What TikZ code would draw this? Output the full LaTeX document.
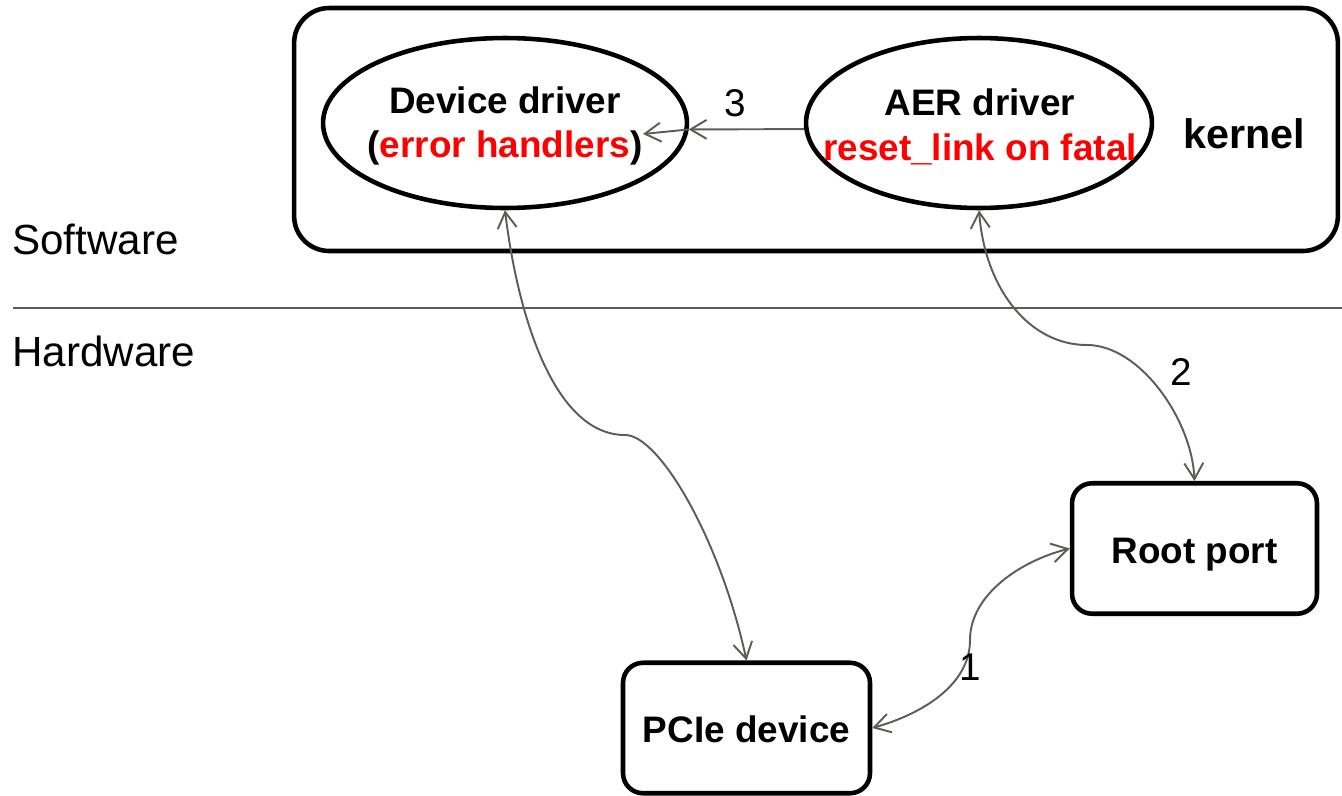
\documentclass[tikz,border=0pt]{standalone}
\usepackage{fontspec}
\setmainfont{Liberation Sans}
\usetikzlibrary{arrows.meta,shapes.geometric}

\definecolor{linkgray}{RGB}{92,92,88}
\definecolor{errred}{RGB}{255,0,0}

\tikzset{
  outline/.style={draw=black, line width=2.6pt},
  kernelframe/.style={outline, rectangle, rounded corners=0.7cm, inner sep=0pt,
    minimum width=20.88cm, minimum height=4.86cm},
  drvshape/.style={outline, ellipse, inner sep=0pt, minimum height=3.4cm},
  hwbox/.style={outline, rectangle, rounded corners=0.4cm, inner sep=0pt,
    minimum height=2.61cm, text height=17pt, text depth=0pt,
    font=\fontsize{21}{25.5}\selectfont\bfseries},
  drvtext/.style={align=center, inner sep=0pt, font=\fontsize{21}{25.5}\selectfont\bfseries},
  layer/.style={anchor=west, inner sep=0pt, font=\fontsize{24}{28}\selectfont},
  stepno/.style={inner sep=0pt, font=\fontsize{22}{26}\selectfont},
  link/.style={draw=linkgray, line width=1.1pt,
    -{Straight Barb[length=0.32cm, width=0.38cm, line width=1.1pt]}},
  biglink/.style={link, {Straight Barb[length=0.32cm, width=0.38cm, line width=1.1pt]}-{Straight Barb[length=0.32cm, width=0.38cm, line width=1.1pt]}},
  divider/.style={draw=linkgray, line width=1.1pt}
}

\begin{document}
\begin{tikzpicture}[x=0.02cm, y=-0.02cm]
  \useasboundingbox (0,0) rectangle (1342,795);

  % software / hardware split
  \coordinate (divL) at (13,308);
  \coordinate (divR) at (1342,308);
  \draw[divider] (divL) -- (divR);
  \node[layer] (sw) at (12,239) {Software};
  \node[layer] (hw) at (12,351) {Hardware};

  % kernel
  \node[kernelframe] (kernelbox) at (816,129.5) {};
  \node[drvtext, font=\fontsize{23.5}{28}\selectfont\bfseries] (kernel) at (1244,134) {kernel};

  \node[drvshape, minimum width=7.28cm] (dd) at (505,123) {};
  \node[drvtext] (ddtext) at (505,126) {Device driver\\(\textcolor{errred}{error handlers})};

  \node[drvshape, minimum width=6.92cm] (aer) at (979,123) {};
  \node[drvtext] (aertext) at (980,127) {AER driver\\\textcolor{errred}{reset\_link on fatal}};

  % hardware
  \node[hwbox, minimum width=4.9cm] (rp) at (1194.5,548.5) {Root port};
  \node[hwbox, minimum width=4.94cm] (pcie) at (746.5,728) {PCIe device};

  % step 3: AER driver calls the device driver's handlers
  \coordinate (c3tip) at (643,134);
  \draw[link] (aer.182) -- (dd.-2);
  \draw[link] (dd.-2) -- (c3tip);
  \node[stepno] (n3) at (735,103) {3};

  % device driver <-> PCIe device
  \coordinate (m1) at (625,435);
  \draw[biglink] (dd.south) .. controls (518,318) and (555,435) .. (m1)
                 .. controls (660,435) and (721,542) .. (pcie.north);

  % step 2: AER driver <-> root port
  \coordinate (m2) at (1087,345);
  \draw[biglink] (aer.south) .. controls (985,290) and (1030,345) .. (m2)
                 .. controls (1140,345) and (1192,420) .. (rp.north);
  \node[stepno] (n2) at (1181,372) {2};

  % step 1: PCIe device <-> root port
  \coordinate (m3) at (970,640);
  \draw[biglink] (pcie.east) .. controls (922,714) and (970,685) .. (m3)
                 .. controls (970,595) and (1020,561) .. (rp.west);
  \node[stepno] (n1) at (970,667) {1};
\end{tikzpicture}
\end{document}
